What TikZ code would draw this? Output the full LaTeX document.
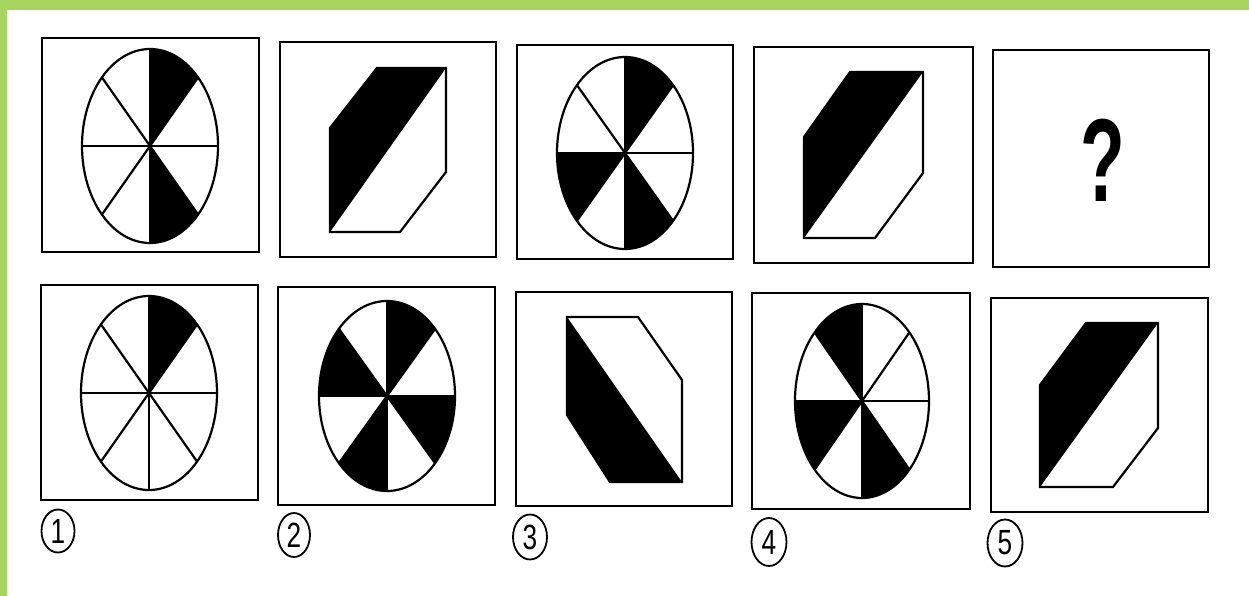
\documentclass[tikz,border=0pt]{standalone}
\usepackage{fontspec}
\setmainfont{Liberation Sans}
\usetikzlibrary{shapes.geometric}
\definecolor{band}{RGB}{166,212,94}
\tikzset{
  panel/.style={draw=black,line width=2.8pt,rectangle,inner sep=0pt},
  pieline/.style={line width=2.2pt,line join=round},
  hexline/.style={line width=2.2pt,line join=miter},
  numlabel/.style={draw=black,ellipse,line width=1.8pt,inner sep=0pt,minimum width=32pt,minimum height=44pt,font=\fontsize{35}{35}\selectfont},
}
\newcommand\mypie[5]{%
  \begin{scope}[shift={(#1,#2)},xscale=#3,yscale=-#4]
    \foreach \a in {#5}{\fill[black] (0,0) -- (\a:1) arc[start angle=\a,delta angle=45,radius=1] -- cycle;}
    \foreach \a in {0,45,...,315}{\draw[pieline] (0,0) -- (\a:1);}
    \draw[pieline] (0,0) circle[radius=1];
  \end{scope}}
\begin{document}
\begin{tikzpicture}[x=1pt,y=-1pt]
\useasboundingbox (0,0) rectangle (1249,596);
\fill[white] (0,0) rectangle (1249,596);
\fill[band] (0,0) rectangle (1249,10);
\fill[band] (0,0) rectangle (7,596);
% panels
\node[panel,minimum width=217pt,minimum height=214pt] (t1) at (150.5,145) {};
\node[panel,minimum width=216pt,minimum height=215pt] (t2) at (388,149.5) {};
\node[panel,minimum width=216pt,minimum height=214pt] (t3) at (625,152) {};
\node[panel,minimum width=219pt,minimum height=216pt] (t4) at (863.5,155) {};
\node[panel,minimum width=216pt,minimum height=217pt] (t5) at (1101,158.5) {};
\node[panel,minimum width=217pt,minimum height=215pt] (b1) at (149.5,392.5) {};
\node[panel,minimum width=217pt,minimum height=218pt] (b2) at (386.5,396) {};
\node[panel,minimum width=216pt,minimum height=214pt] (b3) at (624,399) {};
\node[panel,minimum width=218pt,minimum height=216pt] (b4) at (861,401) {};
\node[panel,minimum width=217pt,minimum height=214pt] (b5) at (1099.5,405) {};
% pies
\mypie{150}{146}{68}{97}{45,270}
\mypie{625}{153}{68}{96}{45,180,270}
\mypie{149}{393}{68}{97}{45}
\mypie{387}{396}{68}{95}{45,135,225,315}
\mypie{862}{401}{67}{97}{90,180,270}
% prisms
\fill[black] (330,232) -- (330,128) -- (377,68) -- (446,68) -- cycle;
\draw[hexline] (377,68) -- (446,68) -- (446,172) -- (400,232) -- (330,232) -- (330,128) -- cycle;
\fill[black] (804,238) -- (804,137) -- (850,72) -- (923,72) -- cycle;
\draw[hexline] (850,72) -- (923,72) -- (923,173) -- (875,238) -- (804,238) -- (804,137) -- cycle;
\fill[black] (567,317) -- (682,482) -- (610,482) -- (567,415) -- cycle;
\draw[hexline] (567,317) -- (638,317) -- (682,380) -- (682,482) -- (610,482) -- (567,415) -- cycle;
\fill[black] (1040,487) -- (1040,385) -- (1086,323) -- (1158,323) -- cycle;
\draw[hexline] (1086,323) -- (1158,323) -- (1158,428) -- (1113,487) -- (1040,487) -- (1040,385) -- cycle;
% question mark
\node[inner sep=0pt,font=\fontsize{118}{118}\selectfont\bfseries] (q) at (1103,160) {\scalebox{0.62}[1]{?}};
% labels
\node[numlabel,minimum width=33pt,minimum height=43pt] (l1) at (58,531) {\scalebox{0.75}[1]{1}};
\node[numlabel,minimum width=32pt,minimum height=44pt] (l2) at (294,535) {\scalebox{0.75}[1]{2}};
\node[numlabel,minimum width=34pt,minimum height=45pt] (l3) at (530,537) {\scalebox{0.75}[1]{3}};
\node[numlabel,minimum width=35pt,minimum height=48pt] (l4) at (769,542) {\scalebox{0.75}[1]{4}};
\node[numlabel,minimum width=35pt,minimum height=47pt] (l5) at (1005,543) {\scalebox{0.75}[1]{5}};
\end{tikzpicture}
\end{document}
